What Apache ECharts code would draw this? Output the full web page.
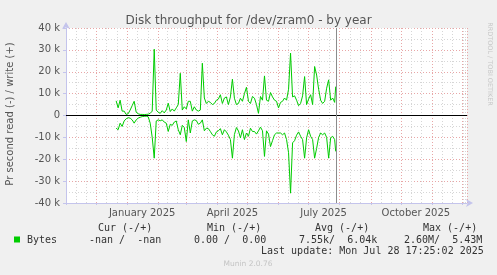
<!DOCTYPE html>
<html>
<head>
<meta charset="utf-8">
<script src="https://cdn.jsdelivr.net/npm/echarts@6/dist/echarts.min.js"></script>
<style>
html,body{margin:0;padding:0;background:#f0f0f0;}
#c{width:497px;height:275px;}
</style>
</head>
<body>
<div id="c"></div>
<script>
// Dates of samples (daily averages, every ~2 days)
const dates = [
'2024-12-21','2024-12-23','2024-12-25','2024-12-27','2024-12-29','2024-12-31',
'2025-01-02','2025-01-04','2025-01-06','2025-01-08','2025-01-10','2025-01-12','2025-01-14','2025-01-16','2025-01-18','2025-01-20','2025-01-22','2025-01-24','2025-01-26','2025-01-28','2025-01-30',
'2025-02-01','2025-02-03','2025-02-05','2025-02-07','2025-02-09','2025-02-11','2025-02-13','2025-02-15','2025-02-17','2025-02-19','2025-02-21','2025-02-23','2025-02-25','2025-02-27',
'2025-03-01','2025-03-03','2025-03-05','2025-03-07','2025-03-09','2025-03-11','2025-03-13','2025-03-15','2025-03-17','2025-03-19','2025-03-21','2025-03-23','2025-03-25','2025-03-27','2025-03-29','2025-03-31',
'2025-04-02','2025-04-04','2025-04-06','2025-04-08','2025-04-10','2025-04-12','2025-04-14','2025-04-16','2025-04-18','2025-04-20','2025-04-22','2025-04-24','2025-04-26','2025-04-28','2025-04-30',
'2025-05-02','2025-05-04','2025-05-06','2025-05-08','2025-05-10','2025-05-12','2025-05-14','2025-05-16','2025-05-18','2025-05-20','2025-05-22','2025-05-24','2025-05-26','2025-05-28','2025-05-30',
'2025-06-01','2025-06-03','2025-06-05','2025-06-07','2025-06-09','2025-06-11','2025-06-13','2025-06-15','2025-06-17','2025-06-19','2025-06-21','2025-06-23','2025-06-25','2025-06-27','2025-06-29',
'2025-07-01','2025-07-03','2025-07-05','2025-07-07','2025-07-09','2025-07-11','2025-07-13','2025-07-15','2025-07-17','2025-07-19','2025-07-21','2025-07-23','2025-07-25','2025-07-27','2025-07-28'
];
// write bytes per second, in thousands (plotted positive)
const writeK = [
6.7,3.5,7.0,2.0,2.0,0.5,
0.8,2.5,4.5,6.5,1.5,0.8,0.5,0.5,0.4,0.5,0.6,1.0,2.0,30.3,2.5,
1.5,1.0,2.2,1.2,2.5,5.6,1.8,3.0,2.0,3.5,5.0,19.3,2.5,4.0,
3.0,6.5,6.5,2.0,4.0,2.5,2.0,2.5,23.9,8.0,5.5,6.5,6.0,5.0,5.5,7.0,
7.5,9.5,5.5,8.0,8.5,5.0,8.5,16.6,7.9,5.0,5.5,7.9,6.5,10.0,12.9,
6.5,5.5,8.7,7.9,5.0,1.0,8.7,7.0,18.1,7.0,6.5,10.5,8.5,7.0,6.5,
3.5,6.0,6.5,8.0,7.0,12.0,28.5,8.5,9.0,7.0,4.5,5.5,9.0,17.8,5.0,
7.5,9.5,5.0,22.4,18.5,12.0,7.0,5.5,6.5,12.5,16.3,7.0,8.0,6.0,13.2
];
// read bytes per second, in thousands (plotted negative)
const readK = [
5.8,6.5,3.5,5.0,2.5,1.5,
1.0,1.2,2.0,3.5,2.0,1.2,0.8,0.5,0.4,0.3,0.6,3.5,10.0,19.5,2.5,
2.0,2.4,2.0,3.0,3.5,7.3,4.0,4.5,3.0,2.5,6.5,8.8,4.5,5.5,
11.9,2.0,8.0,2.5,2.0,2.3,4.0,3.5,2.0,7.0,5.8,6.0,7.3,8.8,9.5,7.5,
7.0,6.0,8.8,6.5,7.5,9.0,11.0,19.5,8.7,5.5,7.0,10.2,6.5,11.0,8.0,
9.5,5.8,7.3,7.3,8.5,7.0,5.3,7.0,18.7,7.0,8.5,14.2,11.5,8.8,8.0,
8.0,8.0,8.8,8.0,11.0,17.0,35.5,12.5,11.5,9.0,7.5,9.5,11.0,19.5,10.2,
6.5,9.5,11.0,19.5,15.0,10.0,8.0,8.8,8.0,10.0,19.5,10.2,9.5,11.0,16.4
];
const yTicks = [-40,-30,-20,-10,0,10,20,30,40];
const xStart = '2024-11-01';
const xEnd = '2025-12-06';
const lastUpdate = '2025-07-28 17:25:02';
const monthNames = ['January','February','March','April','May','June','July','August','September','October','November','December'];
const labelMonths = [0,3,6,9];

const chart = echarts.init(document.getElementById('c'), null, {renderer:'canvas'});
const gridCol = '#e8a6a6';
const minorCol = '#d6d6d6';
const axisCol = '#c4c4ec';
const mono = 'DejaVu Sans Mono';
const sans = 'DejaVu Sans';

function legendText(x, y, t){
  return {type:'text', left:null, x:x, y:y, style:{text:t, fill:'#333', font:'10px "'+mono+'"', textVerticalAlign:'middle'}};
}

chart.setOption({
  backgroundColor:'#f0f0f0',
  animation:false,
  title:{text:'Disk throughput for /dev/zram0 - by year', left:'center', top:10,
    textStyle:{fontFamily:sans, fontSize:12, fontWeight:'normal', color:'#555'}},
  grid:{left:66, top:28, width:401, height:175, show:true, backgroundColor:'#ffffff', borderWidth:0, containLabel:false},
  xAxis:{
    type:'time', min:xStart, max:xEnd,
    splitNumber:13, minInterval:28*86400000, maxInterval:31*86400000,
    axisLine:{onZero:false, show:true, lineStyle:{color:axisCol}, symbol:['none','arrow'], symbolSize:[6,7], symbolOffset:[0,6]},
    axisTick:{show:true, length:2, lineStyle:{color:axisCol}},
    axisLabel:{
      showMinLabel:false, showMaxLabel:false, hideOverlap:false,
      color:'#555', fontFamily:sans, fontSize:10, margin:5, padding:[0,0,0,30],
      formatter:function(v){
        const d = new Date(v);
        if (d.getDate() !== 1) return '';
        if (labelMonths.indexOf(d.getMonth()) < 0) return '';
        return monthNames[d.getMonth()] + ' ' + d.getFullYear();
      }
    },
    splitLine:{show:true, lineStyle:{color:gridCol, type:[1,2], width:1}},
    minorTick:{show:false, splitNumber:3},
    minorSplitLine:{show:true, lineStyle:{color:minorCol, type:[1,2], width:1}}
  },
  yAxis:{
    type:'value', min:yTicks[0], max:yTicks[yTicks.length-1], interval:10,
    axisLine:{show:true, onZero:false, lineStyle:{color:axisCol}, symbol:['none','arrow'], symbolSize:[6,7], symbolOffset:[0,6]},
    axisTick:{show:true, length:3, lineStyle:{color:axisCol}},
    axisLabel:{color:'#555', fontFamily:sans, fontSize:10, margin:6,
      formatter:function(v){ return v === 0 ? '0' : v + ' k'; }},
    splitLine:{show:true, lineStyle:{color:gridCol, type:[1,2], width:1}},
    minorTick:{show:false, splitNumber:2},
    minorSplitLine:{show:true, lineStyle:{color:minorCol, type:[1,2], width:1}}
  },
  series:[
    {type:'line', name:'write', showSymbol:false, symbol:'none',
     lineStyle:{color:'#00cc00', width:1}, itemStyle:{color:'#00cc00'},
     data:dates.map(function(d,i){return [d, writeK[i]];}),
     markLine:{silent:true, symbol:'none', label:{show:false},
       data:[{yAxis:0, lineStyle:{color:'#000', width:1, type:'solid'}},
             {xAxis:lastUpdate, lineStyle:{color:'#8c8c8c', width:1, type:'solid'}}]}
    },
    {type:'line', name:'read', showSymbol:false, symbol:'none',
     lineStyle:{color:'#00cc00', width:1}, itemStyle:{color:'#00cc00'},
     data:dates.map(function(d,i){return [d, -readK[i]];})
    }
  ],
  graphic:[
    {type:'text', x:10, y:114, rotation:Math.PI/2,
     style:{text:'Pr second read (-) / write (+)', fill:'#555', font:'10px "'+sans+'"', textAlign:'center', textVerticalAlign:'middle'}},
    {type:'text', x:490, y:64, rotation:-Math.PI/2,
     style:{text:'RRDTOOL / TOBI OETIKER', fill:'#c8c8c8', font:'6.5px "'+sans+'"', textAlign:'center', textVerticalAlign:'middle'}},
    legendText(98, 228, 'Cur (-/+)'),
    legendText(207, 228, 'Min (-/+)'),
    legendText(315, 228, 'Avg (-/+)'),
    legendText(423, 228, 'Max (-/+)'),
    {type:'rect', shape:{x:14, y:236.5, width:6, height:6}, style:{fill:'#00cc00'}},
    legendText(27, 240, 'Bytes'),
    legendText(89, 240, '-nan /  -nan'),
    legendText(194, 240, '0.00 /  0.00'),
    legendText(299, 240, '7.55k/  6.04k'),
    legendText(404, 240, '2.60M/  5.43M'),
    legendText(261, 251.5, 'Last update: Mon Jul 28 17:25:02 2025'),
    {type:'text', x:248, y:264, style:{text:'Munin 2.0.76', fill:'#c4c4c4', font:'7.5px "'+sans+'"', textAlign:'center', textVerticalAlign:'middle'}}
  ]
});
</script>
</body>
</html>
